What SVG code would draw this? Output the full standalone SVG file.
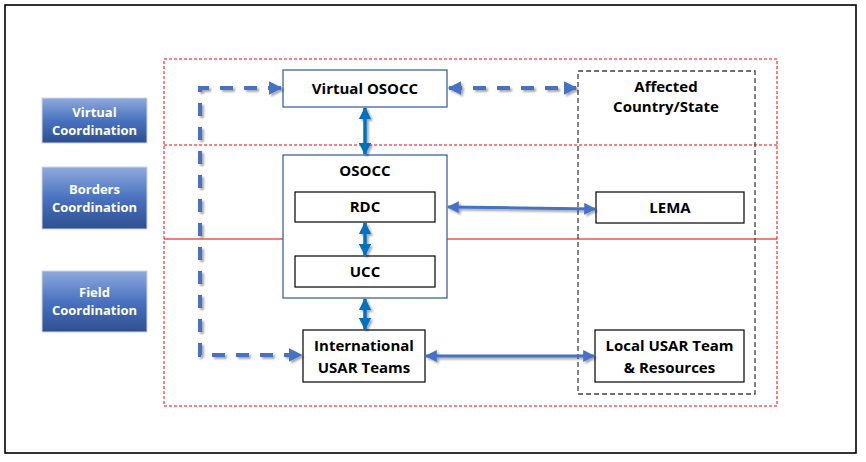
<svg xmlns="http://www.w3.org/2000/svg" width="866" height="462" viewBox="0 0 866 462">
<defs>
<linearGradient id="lblGrad" x1="0" y1="0" x2="0" y2="1">
<stop offset="0" stop-color="#8FAADC"/>
<stop offset="0.5" stop-color="#4A72C0"/>
<stop offset="1" stop-color="#2F4F8F"/>
</linearGradient>
<filter id="sh" x="-20%" y="-20%" width="140%" height="140%">
<feGaussianBlur in="SourceAlpha" stdDeviation="1.2"/>
<feOffset dx="2" dy="2" result="b"/>
<feComponentTransfer><feFuncA type="linear" slope="0.35"/></feComponentTransfer>
<feMerge><feMergeNode/><feMergeNode in="SourceGraphic"/></feMerge>
</filter>
<marker id="ahD" viewBox="0 0 10 10" refX="9" refY="5" markerWidth="3.4" markerHeight="3.4" orient="auto-start-reverse" markerUnits="strokeWidth">
<path d="M0,0 L10,5 L0,10 z" fill="#4472C4"/>
</marker>
<marker id="ahV" viewBox="0 0 10 10" refX="9" refY="5" markerWidth="3.6" markerHeight="3.6" orient="auto-start-reverse" markerUnits="strokeWidth">
<path d="M0,0 L10,5 L0,10 z" fill="#0070C0"/>
</marker>
<marker id="ahH" viewBox="0 0 10 10" refX="9" refY="5" markerWidth="4" markerHeight="4" orient="auto-start-reverse" markerUnits="strokeWidth">
<path d="M0,0 L10,5 L0,10 z" fill="#4472C4"/>
</marker>
</defs>
<style>
.lbl{fill:url(#lblGrad);stroke:#C9D5EE;stroke-width:1}
.lbltx{font-family:"Open Sans","Liberation Sans",sans-serif;font-weight:bold;font-size:13px;fill:#ffffff;text-anchor:middle}
.box{fill:#ffffff;stroke:#000000;stroke-width:1.2}
.bbox{fill:#ffffff;stroke:#2F5597;stroke-width:1.2}
.tx{font-family:"Open Sans","Liberation Sans",sans-serif;font-weight:bold;font-size:15px;fill:#000000;text-anchor:middle}
.dash{fill:none;stroke:#4472C4;stroke-width:4;stroke-dasharray:13 11}
.vert{fill:none;stroke:#0070C0;stroke-width:3.5}
.hor{fill:none;stroke:#4472C4;stroke-width:3}
</style>
<rect x="0" y="0" width="866" height="462" fill="#ffffff"/>
<rect x="5" y="5" width="851" height="448" fill="#ffffff" stroke="#000000" stroke-width="1.6"/>

<g id="zones">
<rect x="164" y="59" width="613" height="347" fill="none" stroke="#FF0000" stroke-width="1" stroke-dasharray="3 2"/>
<line x1="164" y1="145" x2="777" y2="145" stroke="#FF0000" stroke-width="1" stroke-dasharray="3 2"/>
<line x1="164" y1="239" x2="777" y2="239" stroke="#E00000" stroke-width="1"/>
</g>

<g id="label-virtual">
<rect class="lbl" x="42" y="98" width="105" height="45"/>
<text class="lbltx" x="94.5" y="117">Virtual</text>
<text class="lbltx" x="94.5" y="135">Coordination</text>
</g>
<g id="label-borders">
<rect class="lbl" x="42" y="167" width="105" height="62"/>
<text class="lbltx" x="94.5" y="194">Borders</text>
<text class="lbltx" x="94.5" y="212">Coordination</text>
</g>
<g id="label-field">
<rect class="lbl" x="42" y="271" width="105" height="61"/>
<text class="lbltx" x="94.5" y="297">Field</text>
<text class="lbltx" x="94.5" y="315">Coordination</text>
</g>

<g id="affected">
<rect x="578" y="71" width="177" height="323" fill="none" stroke="#404040" stroke-width="1.3" stroke-dasharray="5 3"/>
<text class="tx" x="666" y="92">Affected</text>
<text class="tx" x="666" y="112">Country/State</text>
</g>

<g id="virtual-osocc">
<rect class="bbox" x="283" y="70" width="164" height="37"/>
<text class="tx" x="365" y="94">Virtual OSOCC</text>
</g>
<g id="osocc">
<rect class="bbox" x="283" y="155" width="164" height="143"/>
<text class="tx" x="365" y="176">OSOCC</text>
</g>
<g id="rdc">
<rect class="box" x="295" y="192" width="140" height="30"/>
<text class="tx" x="365" y="212">RDC</text>
</g>
<g id="ucc">
<rect class="box" x="295" y="256" width="140" height="31"/>
<text class="tx" x="365" y="277">UCC</text>
</g>
<g id="intl-usar">
<rect class="box" x="303" y="330" width="122" height="52"/>
<text class="tx" x="364" y="351">International</text>
<text class="tx" x="364" y="373">USAR Teams</text>
</g>
<g id="lema">
<rect class="box" x="596" y="192" width="148" height="31"/>
<text class="tx" x="670" y="213">LEMA</text>
</g>
<g id="local-usar">
<rect class="box" x="595" y="330" width="149" height="52"/>
<text class="tx" x="669.5" y="351">Local USAR Team</text>
<text class="tx" x="669.5" y="373">&amp; Resources</text>
</g>

<g id="connectors" filter="url(#sh)">
<path class="dash" d="M281,88 L200,88 L200,355 L301,355" marker-start="url(#ahD)" marker-end="url(#ahD)"/>
<path class="dash" d="M449,88 L576,88" marker-start="url(#ahD)" marker-end="url(#ahD)"/>
<path class="vert" d="M365,108 L365,154" marker-start="url(#ahV)" marker-end="url(#ahV)"/>
<path class="vert" d="M365,223 L365,255" marker-start="url(#ahV)" marker-end="url(#ahV)"/>
<path class="vert" d="M365,299 L365,329" marker-start="url(#ahV)" marker-end="url(#ahV)"/>
<path class="hor" d="M448,207 L595,209" marker-start="url(#ahH)" marker-end="url(#ahH)"/>
<path class="hor" d="M426,356 L594,356" marker-start="url(#ahH)" marker-end="url(#ahH)"/>
</g>
</svg>
